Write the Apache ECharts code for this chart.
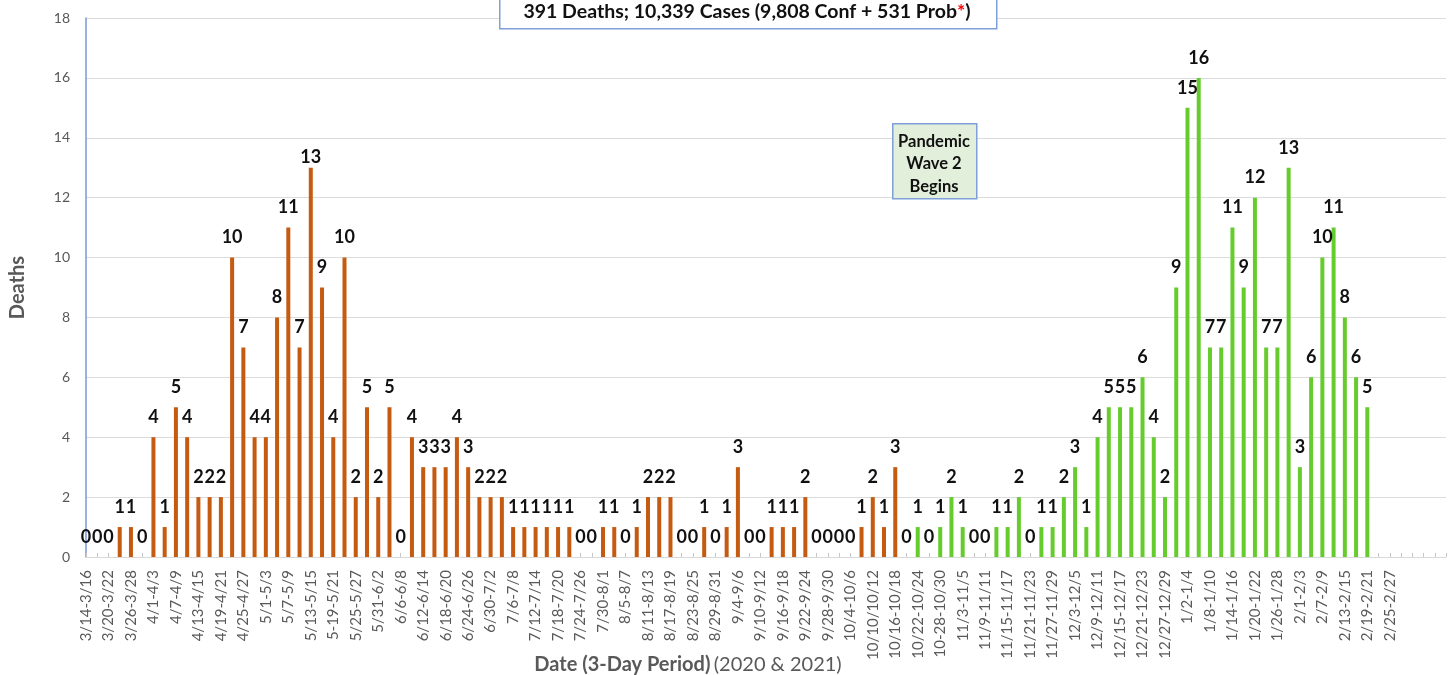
<!DOCTYPE html>
<html>
<head>
<meta charset="utf-8">
<script src="https://cdn.jsdelivr.net/npm/echarts@6/dist/echarts.min.js"></script>
<style>
  html, body { margin: 0; padding: 0; background: #ffffff; }
  #chart { width: 1448px; height: 675px; }
</style>
</head>
<body>
<div id="chart"></div>
<script>
const categories = [
  '3/14-3/16','3/17-3/19','3/20-3/22','3/23-3/25','3/26-3/28','3/29-3/31','4/1-4/3','4/4-4/6',
  '4/7-4/9','4/10-4/12','4/13-4/15','4/16-4/18','4/19-4/21','4/22-4/24','4/25-4/27','4/28-4/30',
  '5/1-5/3','5/4-5/6','5/7-5/9','5/10-5/12','5/13-5/15','5/16-5/18','5-19-5/21','5/22-5/24',
  '5/25-5/27','5/28-5/30','5/31-6/2','6/3-6/5','6/6-6/8','6/9-6/11','6/12-6/14','6/15-6/17',
  '6/18-6/20','6/21-6/23','6/24-6/26','6/27-6/29','6/30-7/2','7/3-7/5','7/6-7/8','7/9-7/11',
  '7/12-7/14','7/15-7/17','7/18-7/20','7/21-7/23','7/24-7/26','7/27-7/29','7/30-8/1','8/2-8/4',
  '8/5-8/7','8/8-8/10','8/11-8/13','8/14-8/16','8/17-8/19','8/20-8/22','8/23-8/25','8/26-8/28',
  '8/29-8/31','9/1-9/3','9/4-9/6','9/7-9/9','9/10-9/12','9/13-9/15','9/16-9/18','9/19-9/21',
  '9/22-9/24','9/25-9/27','9/28-9/30','10/1-10/3','10/4-10/6','10/7-10/9','10/10/10/12','10/13-10/15',
  '10/16-10/18','10/19-10/21','10/22-10/24','10/25-10/27','10-28-10/30','10/31-11/2','11/3-11/5','11/6-11/8',
  '11/9-11/11','11/12-11/14','11/15-11/17','11/18-11/20','11/21-11/23','11/24-11/26','11/27-11/29','11/30-12/2',
  '12/3-12/5','12/6-12/8','12/9-12/11','12/12-12/14','12/15-12/17','12/18-12/20','12/21-12/23','12/24-12/26',
  '12/27-12/29','12/30-1/1','1/2-1/4','1/5-1/7','1/8-1/10','1/11-1/13','1/14-1/16','1/17-1/19',
  '1/20-1/22','1/23-1/25','1/26-1/28','1/29-1/31','2/1-2/3','2/4-2/6','2/7-2/9','2/10-2/12',
  '2/13-2/15','2/16-2/18','2/19-2/21','2/22-2/24','2/25-2/27',
  ' ', '  ', '   ', '    ', '     '
];

// Wave 1 (orange): 3/14-3/16 through 10/19-10/21
const wave1Deaths = [
  0, 0, 0, 1, 1, 0, 4, 1, 5, 4,
  2, 2, 2, 10, 7, 4, 4, 8, 11, 7,
  13, 9, 4, 10, 2, 5, 2, 5, 0, 4,
  3, 3, 3, 4, 3, 2, 2, 2, 1, 1,
  1, 1, 1, 1, 0, 0, 1, 1, 0, 1,
  2, 2, 2, 0, 0, 1, 0, 1, 3, 0,
  0, 1, 1, 1, 2, 0, 0, 0, 0, 1,
  2, 1, 3, 0
];

// Wave 2 (green): 10/22-10/24 through 2/19-2/21
const wave2Deaths = [
  1, 0, 1, 2, 1, 0, 0, 1, 1, 2,
  0, 1, 1, 2, 3, 1, 4, 5, 5, 5,
  6, 4, 2, 9, 15, 16, 7, 7, 11, 9,
  12, 7, 7, 13, 3, 6, 10, 11, 8, 6,
  5
];

const yTicks = { min: 0, max: 18, interval: 2 };

const titleText = '391 Deaths; 10,339 Cases (9,808 Conf + 531 Prob';
const annotationText = 'Pandemic\nWave 2\nBegins';
const xAxisTitleBold = 'Date (3-Day Period)';
const xAxisTitleNormal = '(2020 & 2021)';
const yAxisTitle = 'Deaths';

const wave2Start = wave1Deaths.length;

const labelStyle = {
  show: true, position: 'top', distance: 11,
  fontFamily: 'Lato', fontWeight: 'bold', fontSize: 18, color: '#111111'
};

const wave1Data = categories.map((c, i) => {
  if (i >= wave1Deaths.length) return '-';
  // the "13" label sits a little lower in the source
  if (i === 20) return { value: wave1Deaths[i], label: { distance: 2 } };
  return wave1Deaths[i];
});
const wave2Data = categories.map((c, i) => {
  const j = i - wave2Start;
  return (j >= 0 && j < wave2Deaths.length) ? wave2Deaths[j] : '-';
});

const chart = echarts.init(document.getElementById('chart'), null, { renderer: 'canvas' });
chart.setOption({
  animation: false,
  backgroundColor: '#ffffff',
  grid: { left: 83, right: 2, top: 18, bottom: 118, containLabel: false },
  xAxis: {
    type: 'category',
    data: categories,
    boundaryGap: false,
    axisLine: { show: true, lineStyle: { color: '#d9d9d9', width: 1 } },
    axisTick: { show: true, inside: true, length: 4, interval: 0, lineStyle: { color: '#c8c8c8' } },
    axisLabel: {
      interval: 1, rotate: 90, margin: 13,
      fontFamily: 'Lato', fontSize: 15, color: '#595959'
    },
    splitLine: { show: false }
  },
  yAxis: {
    type: 'value',
    min: yTicks.min, max: yTicks.max, interval: yTicks.interval,
    name: yAxisTitle,
    nameLocation: 'middle',
    nameGap: 58,
    nameTextStyle: { fontFamily: 'Lato', fontWeight: 'bold', fontSize: 20, color: '#595959' },
    axisLine: { show: true, lineStyle: { color: '#7896d8', width: 1.5 } },
    axisTick: { show: false },
    axisLabel: { fontFamily: 'Lato', fontSize: 14, color: '#595959', margin: 16 },
    splitLine: { show: true, lineStyle: { color: '#dcdcdc', width: 1 } }
  },
  series: [
    {
      name: 'Wave 1', type: 'bar', data: wave1Data, barWidth: 4, barGap: '-100%',
      itemStyle: { color: '#c55a11' }, label: labelStyle, clip: false
    },
    {
      name: 'Wave 2', type: 'bar', data: wave2Data, barWidth: 4, barGap: '-100%',
      itemStyle: { color: '#66cc2e' }, label: labelStyle, clip: false
    }
  ],
  graphic: [
    {
      type: 'rect', left: 499, top: -3, z: 10,
      shape: { width: 497, height: 31 },
      style: { fill: '#ffffff', stroke: '#7f9fd9', lineWidth: 1.5 }
    },
    {
      type: 'text', z: 11,
      x: 747, y: 12,
      style: {
        text: '{t|' + titleText + '}{r|*}{t|)}',
        align: 'center', verticalAlign: 'middle',
        rich: {
          t: { fontFamily: 'Lato', fontWeight: 'bold', fontSize: 19.5, fill: '#111111' },
          r: { fontFamily: 'Lato', fontWeight: 'bold', fontSize: 19.5, fill: '#ff0000' }
        }
      }
    },
    {
      type: 'rect', left: 892, top: 123, z: 10,
      shape: { width: 84, height: 75 },
      style: { fill: '#e2efda', stroke: '#7f9fd9', lineWidth: 1.5 }
    },
    {
      type: 'text', z: 11,
      x: 934, y: 164,
      style: {
        text: annotationText, align: 'center', verticalAlign: 'middle',
        fontFamily: 'Lato', fontWeight: 'bold', fontSize: 16.5, lineHeight: 22.5, fill: '#111111'
      }
    },
    {
      type: 'text', z: 11,
      x: 688, y: 665,
      style: {
        text: '{b|' + xAxisTitleBold + '} {n|' + xAxisTitleNormal + '}',
        align: 'center', verticalAlign: 'middle',
        rich: {
          b: { fontFamily: 'Lato', fontWeight: 'bold', fontSize: 20, fill: '#595959' },
          n: { fontFamily: 'Lato', fontSize: 20, fill: '#595959' }
        }
      }
    }
  ]
});
</script>
</body>
</html>
